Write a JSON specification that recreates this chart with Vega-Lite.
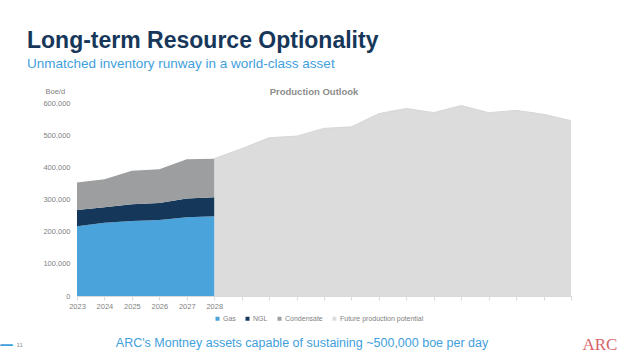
{
  "$schema": "https://vega.github.io/schema/vega-lite/v6.json",
  "width": 494,
  "height": 193,
  "autosize": {"type": "none"},
  "padding": {"left": 77, "top": 103, "right": 69, "bottom": 62},
  "background": "white",
  "config": {
    "view": {"stroke": null},
    "font": "Liberation Sans",
    "axis": {"grid": false, "labelFont": "Liberation Sans", "titleFont": "Liberation Sans"}
  },
  "title": {
    "text": "Long-term Resource Optionality",
    "subtitle": "Unmatched inventory runway in a world-class asset",
    "anchor": "start",
    "frame": "group",
    "dx": -50,
    "offset": 16,
    "fontSize": 23,
    "fontWeight": "bold",
    "color": "#17375a",
    "subtitleFontSize": 13.5,
    "subtitleColor": "#3fa0dc",
    "subtitlePadding": 4
  },
  "datasets": {
    "hist": [
      {"year": 2023, "type": "Gas", "k": 1, "value": 217000},
      {"year": 2024, "type": "Gas", "k": 1, "value": 228000},
      {"year": 2025, "type": "Gas", "k": 1, "value": 233000},
      {"year": 2026, "type": "Gas", "k": 1, "value": 236000},
      {"year": 2027, "type": "Gas", "k": 1, "value": 245000},
      {"year": 2028, "type": "Gas", "k": 1, "value": 248000},
      {"year": 2023, "type": "NGL", "k": 2, "value": 50000},
      {"year": 2024, "type": "NGL", "k": 2, "value": 48000},
      {"year": 2025, "type": "NGL", "k": 2, "value": 52000},
      {"year": 2026, "type": "NGL", "k": 2, "value": 53000},
      {"year": 2027, "type": "NGL", "k": 2, "value": 58000},
      {"year": 2028, "type": "NGL", "k": 2, "value": 59000},
      {"year": 2023, "type": "Condensate", "k": 3, "value": 86000},
      {"year": 2024, "type": "Condensate", "k": 3, "value": 87000},
      {"year": 2025, "type": "Condensate", "k": 3, "value": 104000},
      {"year": 2026, "type": "Condensate", "k": 3, "value": 105000},
      {"year": 2027, "type": "Condensate", "k": 3, "value": 122000},
      {"year": 2028, "type": "Condensate", "k": 3, "value": 120000}
    ],
    "future": [
      {"year": 2028, "type": "Future production potential", "value": 427000},
      {"year": 2029, "type": "Future production potential", "value": 458000},
      {"year": 2030, "type": "Future production potential", "value": 492000},
      {"year": 2031, "type": "Future production potential", "value": 497000},
      {"year": 2032, "type": "Future production potential", "value": 521000},
      {"year": 2033, "type": "Future production potential", "value": 526000},
      {"year": 2034, "type": "Future production potential", "value": 567000},
      {"year": 2035, "type": "Future production potential", "value": 583000},
      {"year": 2036, "type": "Future production potential", "value": 570000},
      {"year": 2037, "type": "Future production potential", "value": 592000},
      {"year": 2038, "type": "Future production potential", "value": 570000},
      {"year": 2039, "type": "Future production potential", "value": 577000},
      {"year": 2040, "type": "Future production potential", "value": 565000},
      {"year": 2041, "type": "Future production potential", "value": 545000}
    ]
  },
  "resolve": {"axis": {"x": "independent", "y": "independent"}},
  "layer": [
    {
      "data": {"name": "future"},
      "mark": {"type": "area", "interpolate": "linear"},
      "encoding": {
        "x": {
          "field": "year", "type": "quantitative",
          "scale": {"domain": [2023, 2041], "nice": false, "zero": false},
          "axis": {
            "orient": "top", "labels": false, "ticks": false, "domain": false,
            "title": "Production Outlook", "titleX": 236.5, "titleY": -9,
            "titleAlign": "center", "titleBaseline": "alphabetic", "titleAngle": 0,
            "titleFontSize": 9.5, "titleFontWeight": "bold", "titleColor": "#8c8c8c"
          }
        },
        "y": {
          "field": "value", "type": "quantitative",
          "scale": {"domain": [0, 600000], "nice": false},
          "axis": {
            "orient": "right", "labels": false, "ticks": false, "domain": false,
            "title": "ARC", "titleX": 11, "titleY": 246, "titleAngle": 0,
            "titleAlign": "left", "titleBaseline": "alphabetic",
            "titleFont": "Liberation Serif", "titleFontSize": 17,
            "titleFontWeight": "normal", "titleColor": "#d9636b"
          }
        },
        "color": {
          "field": "type", "type": "nominal",
          "scale": {
            "domain": ["Gas", "NGL", "Condensate", "Future production potential"],
            "range": ["#4ba3db", "#14375a", "#9c9ea0", "#dcdcdc"]
          },
          "legend": {
            "orient": "none", "legendX": 137, "legendY": 212,
            "direction": "horizontal", "title": null,
            "symbolType": "square", "symbolSize": 16, "symbolStrokeWidth": 0,
            "labelFontSize": 7, "labelColor": "#7f7f7f", "labelOffset": 2,
            "columnPadding": 8
          }
        }
      }
    },
    {
      "data": {"name": "future"},
      "mark": {"type": "line", "color": "#d6d6d6", "strokeWidth": 1, "interpolate": "linear"},
      "encoding": {
        "x": {
          "field": "year", "type": "quantitative",
          "scale": {"domain": [2023, 2041], "nice": false, "zero": false},
          "axis": {
            "orient": "bottom", "labels": false, "ticks": false, "domain": false,
            "title": "11", "titleX": -61, "titleY": 50, "titleAngle": 0,
            "titleAlign": "left", "titleBaseline": "alphabetic",
            "titleFontSize": 6, "titleFontWeight": "normal", "titleColor": "#8c8c8c"
          }
        },
        "y": {
          "field": "value", "type": "quantitative",
          "scale": {"domain": [0, 600000], "nice": false},
          "axis": {
            "orient": "left", "labels": false, "ticks": false, "domain": false,
            "title": "—", "titleX": -78, "titleY": 245, "titleAngle": 0,
            "titleAlign": "left", "titleBaseline": "alphabetic",
            "titleFont": "DejaVu Sans", "titleFontSize": 14, "titleFontWeight": "bold", "titleColor": "#3fa0dc"
          }
        }
      }
    },
    {
      "data": {"name": "hist"},
      "mark": {"type": "area", "interpolate": "linear"},
      "encoding": {
        "x": {
          "field": "year", "type": "quantitative",
          "scale": {"domain": [2023, 2041], "nice": false, "zero": false},
          "axis": {
            "orient": "bottom",
            "values": [2023, 2024, 2025, 2026, 2027, 2028, 2029, 2030, 2031, 2032, 2033, 2034, 2035, 2036, 2037, 2038, 2039, 2040, 2041],
            "labelExpr": "datum.value <= 2028 ? toString(datum.value) : ''",
            "labelFontSize": 7.5, "labelColor": "#7f7f7f", "labelPadding": 2,
            "tickColor": "#d9d9d9", "tickSize": 4, "domainColor": "#d9d9d9",
            "labelFlush": false, "labelOverlap": false,
            "title": "ARC's Montney assets capable of sustaining ~500,000 boe per day",
            "titleX": 224.5, "titleY": 50, "titleAngle": 0,
            "titleAlign": "center", "titleBaseline": "alphabetic",
            "titleFontSize": 12.5, "titleFontWeight": "normal", "titleColor": "#3fa0dc"
          }
        },
        "y": {
          "field": "value", "type": "quantitative", "stack": "zero",
          "scale": {"domain": [0, 600000], "nice": false},
          "axis": {
            "orient": "left",
            "values": [0, 100000, 200000, 300000, 400000, 500000, 600000],
            "format": ",d", "ticks": false, "domain": false, "labelPadding": 7,
            "labelFontSize": 7.5, "labelColor": "#7f7f7f",
            "title": "Boe/d", "titleX": -32, "titleY": -10, "titleAngle": 0,
            "titleAlign": "left", "titleBaseline": "alphabetic",
            "titleFontSize": 7.5, "titleFontWeight": "normal", "titleColor": "#7f7f7f"
          }
        },
        "color": {"field": "type", "type": "nominal"},
        "order": {"field": "k", "type": "quantitative"}
      }
    }
  ]
}
